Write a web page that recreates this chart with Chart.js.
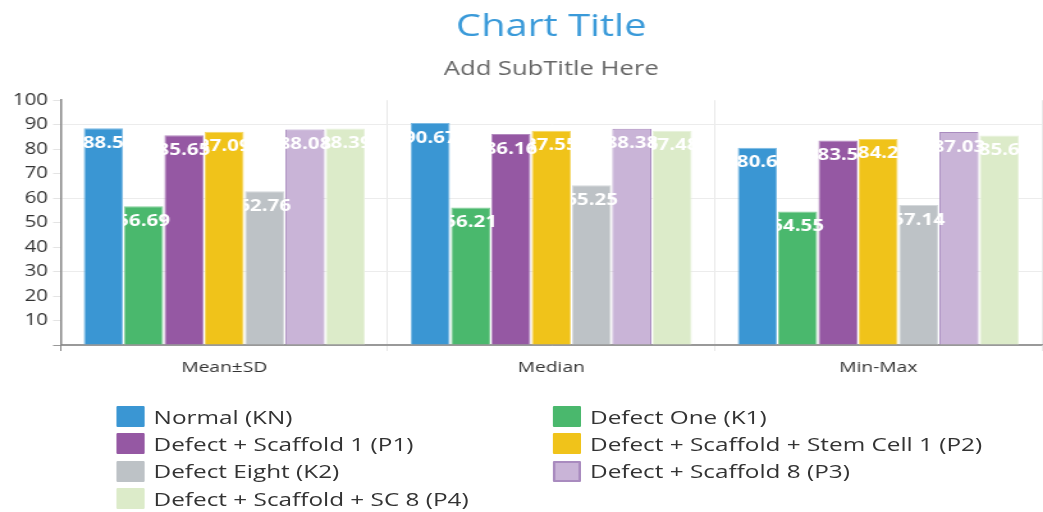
<!DOCTYPE html>
<html>
<head>
<meta charset="utf-8">
<script src="https://cdn.jsdelivr.net/npm/chart.js@4.4.1/dist/chart.umd.min.js"></script>
<style>
    html, body { margin: 0; padding: 0; background: #fff; overflow: hidden; }
    /* the reference is drawn a bit wide, so the whole chart is stretched sideways */
    #wrap { position: relative; width: 815px; height: 512px; transform: scaleX(1.2798); transform-origin: 0 0; }
    #legend {
        position: absolute; left: 91px; top: 403px;
        display: grid; grid-template-columns: 341px 360px;
        font-family: 'Open Sans', sans-serif; font-size: 19px; color: #333;
    }
    .item { display: flex; align-items: center; height: 27.3px; white-space: nowrap; }
    .box { width: 22px; height: 21px; margin-right: 7px; box-sizing: border-box; border-radius: 1px; }
</style>
</head>
<body>
<div id="wrap">
    <canvas id="chart" width="815" height="512"></canvas>
    <div id="legend"></div>
</div>
<script>
const categories = ['Mean±SD', 'Median', 'Min-Max'];

const seriesNames = [
    'Normal (KN)',
    'Defect One (K1)',
    'Defect + Scaffold 1 (P1)',
    'Defect + Scaffold + Stem Cell 1 (P2)',
    'Defect Eight (K2)',
    'Defect + Scaffold 8 (P3)',
    'Defect + Scaffold + SC 8 (P4)',
];

const normalKN = [88.5, 90.67, 80.6];
const defectOneK1 = [56.69, 56.21, 54.55];
const scaffold1P1 = [85.65, 86.16, 83.5];
const stemCell1P2 = [87.09, 87.55, 84.2];
const defectEightK2 = [62.76, 65.25, 57.14];
const scaffold8P3 = [88.08, 88.38, 87.03];
const sc8P4 = [88.39, 87.48, 85.6];

const seriesValues = [normalKN, defectOneK1, scaffold1P1, stemCell1P2, defectEightK2, scaffold8P3, sc8P4];

const fills = ['#3a96d3', '#4ab86d', '#9558a3', '#f0c31a', '#bdc2c6', '#c9b4d7', '#dcebc9'];
const edges = ['#7dbbe4', '#85cf9c', '#b38abf', '#f5d766', '#d5d9dc', '#a98bbf', '#e8f2dc'];

const yTicks = [0, 10, 20, 30, 40, 50, 60, 70, 80, 90, 100];
const yGridValues = [30, 60, 90];

const FONT = "'Open Sans', sans-serif";

// white value labels, drawn right after each dataset so later bars cover the overflow
const valueLabels = {
    id: 'valueLabels',
    afterDatasetDraw(chart, args) {
        const { ctx } = chart;
        const ds = chart.data.datasets[args.index];
        ctx.save();
        ctx.fillStyle = '#fff';
        ctx.font = `bold 16px ${FONT}`;
        ctx.textAlign = 'center';
        ctx.textBaseline = 'middle';
        args.meta.data.forEach((bar, i) => {
            ctx.fillText(String(ds.data[i]), bar.x, bar.y + 15);
        });
        ctx.restore();
    },
};

function buildLegend(chart) {
    const el = document.getElementById('legend');
    chart.data.datasets.forEach((ds, i) => {
        const item = document.createElement('div');
        item.className = 'item';
        const box = document.createElement('span');
        box.className = 'box';
        box.style.background = ds.backgroundColor;
        if (i === 5) {
            box.style.border = `2px solid ${ds.borderColor}`;
        }
        item.appendChild(box);
        item.appendChild(document.createTextNode(ds.label));
        el.appendChild(item);
    });
}

const chart = new Chart(document.getElementById('chart'), {
    type: 'bar',
    data: {
        labels: categories,
        datasets: seriesNames.map((name, i) => ({
            label: name,
            data: seriesValues[i],
            backgroundColor: fills[i],
            borderColor: edges[i],
            borderWidth: 1,
            barPercentage: 0.97,
            categoryPercentage: 0.863,
        })),
    },
    options: {
        responsive: false,
        animation: false,
        layout: { padding: { left: 6, right: 1, bottom: 127, top: 0 } },
        plugins: {
            legend: { display: false },
            tooltip: { enabled: false },
            title: {
                display: true,
                text: 'Chart Title',
                fullSize: false,
                color: '#3a9ad9',
                font: { family: FONT, size: 31, weight: 'normal' },
                padding: { top: 9, bottom: 6 },
            },
            subtitle: {
                display: true,
                text: 'Add SubTitle Here',
                fullSize: false,
                color: '#666',
                font: { family: FONT, size: 20, weight: 'normal' },
                padding: { top: 5, bottom: 19 },
            },
        },
        scales: {
            x: {
                grid: { color: '#e8e8e8', tickLength: 6, tickColor: (c) => (c.index === 0 ? '#888' : '#e8e8e8') },
                border: { color: '#999', width: 1.5 },
                ticks: { color: '#333', font: { family: FONT, size: 15 }, padding: 8 },
            },
            y: {
                min: 0,
                max: 100,
                afterBuildTicks: (axis) => { axis.ticks = yTicks.map((v) => ({ value: v })); },
                grid: {
                    tickLength: 6,
                    color: (c) => {
                        const v = c.tick ? c.tick.value : null;
                        if (v === 0) return '#999';
                        return yGridValues.includes(v) ? '#ececec' : 'rgba(0,0,0,0)';
                    },
                    tickColor: (c) => (c.tick && c.tick.value === 0 ? '#999' : '#e4e4e4'),
                },
                border: { color: '#888', width: 1.5 },
                ticks: {
                    color: '#333',
                    font: { family: FONT, size: 16 },
                    padding: 4,
                    callback: (v) => (v === 0 ? '' : v),
                },
            },
        },
    },
    plugins: [valueLabels],
});

buildLegend(chart);
</script>
</body>
</html>
